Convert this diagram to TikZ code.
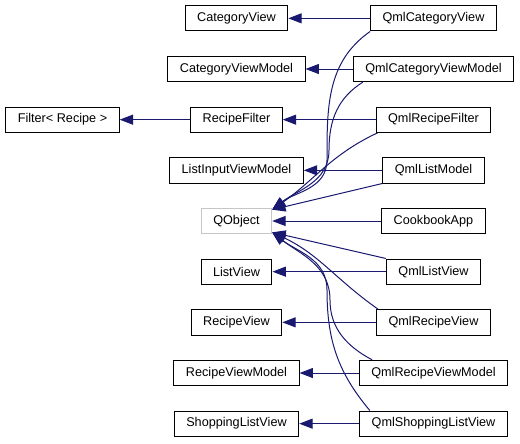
\documentclass[tikz,border=0pt]{standalone}
\usepackage{fontspec}
\setmainfont{Liberation Sans}
\usetikzlibrary{arrows.meta, positioning}
\definecolor{edgeblue}{RGB}{25,25,112}

\begin{document}
\begin{tikzpicture}[x=0.75pt, y=0.75pt, node distance=38pt and 147.75pt, on grid,
  cls/.style={rectangle, draw=black, fill=white, line width=0.75pt, minimum height=19pt, inner xsep=9pt, inner ysep=0pt, font=\fontsize{9.5}{11}\selectfont},
  base/.style={cls, draw=gray!45},
  arr/.style={-{Triangle[length=10pt,width=7.5pt]}, edgeblue, line width=0.75pt}
]
\useasboundingbox (-236.5,-222) rectangle (283.5,221);
% middle column
\node[base] (qobj) at (0,0) {QObject};
\node[cls, above=of qobj] (livm) {ListInputViewModel};
\node[cls, above=of livm] (rf) {RecipeFilter};
\node[cls, above=of rf] (cvm) {CategoryViewModel};
\node[cls, above=of cvm] (cv) {CategoryView};
\node[cls, below=of qobj] (lv) {ListView};
\node[cls, below=of lv] (rv) {RecipeView};
\node[cls, below=of rv] (rvm) {RecipeViewModel};
\node[cls, below=of rvm] (slv) {ShoppingListView};
\node[cls, left=130.5pt of rf] (flt) {Filter< Recipe >};
% Qml classes
\node[cls, right=of cv] (qcv) {QmlCategoryView};
\node[cls, right=of cvm] (qcvm) {QmlCategoryViewModel};
\node[cls, right=of rf] (qrf) {QmlRecipeFilter};
\node[cls, right=of livm] (qlm) {QmlListModel};
\node[cls, right=of qobj] (app) {CookbookApp};
\node[cls, right=of lv] (qlv) {QmlListView};
\node[cls, right=of rv] (qrv) {QmlRecipeView};
\node[cls, right=of rvm] (qrvm) {QmlRecipeViewModel};
\node[cls, right=of slv] (qslv) {QmlShoppingListView};
\coordinate (qobjtop) at ([yshift=8.5pt]qobj.east);
\coordinate (qobjbot) at ([yshift=-8.5pt]qobj.east);
% Arrows
\draw[arr] (qcv) -- (cv);
\draw[arr] (qcvm) -- (cvm);
\draw[arr] (rf) -- (flt);
\draw[arr] (qrf) -- (rf);
\draw[arr] (qlm) -- (livm);
\draw[arr] (qlv) -- (lv);
\draw[arr] (qrv) -- (rv);
\draw[arr] (qrvm) -- (rvm);
\draw[arr] (qslv) -- (slv);
% to QObject
\draw[arr] (qcv.south west) to[out=215,in=90] (90.5,61) to[out=270,in=38] (qobjtop);
\draw[arr] ([xshift=7.5pt]qcvm.south west) to[out=212,in=90] (92.5,71) to[out=270,in=38] (qobjtop);
\draw[arr] ([xshift=1.5pt]qrf.south west) to[out=205,in=35] (qobjtop);
\draw[arr] (qlm.south west) -- (qobjtop);
\draw[arr] (app) -- (qobj);
\draw[arr] (qlv.north west) -- (qobjbot);
\draw[arr] ([xshift=1.5pt]qrv.north west) to[out=145,in=-25] (qobjbot);
\draw[arr] ([xshift=10pt]qrvm.north west) to[out=152,in=-90] (93.5,-79) to[out=90,in=-38] (qobjbot);
\draw[arr] ([xshift=8pt]qslv.north west) to[out=130,in=-90] (90.5,-69) to[out=90,in=-38] (qobjbot);
\end{tikzpicture}
\end{document}
